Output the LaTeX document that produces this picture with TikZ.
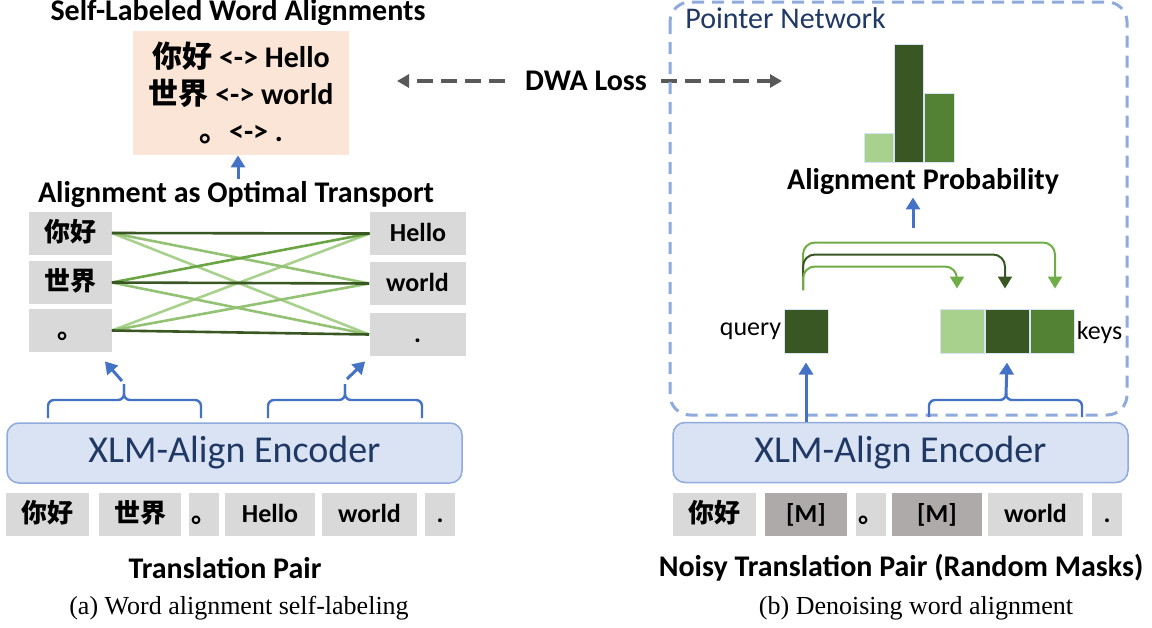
\documentclass[tikz,border=0pt]{standalone}
\usepackage{fontspec}
\setmainfont{Liberation Serif}
\setsansfont{Carlito}
\newfontfamily\cjk{Noto Sans CJK SC}
\usetikzlibrary{positioning,calc,arrows.meta}

\definecolor{tokgray}{HTML}{D9D9D9}
\definecolor{maskgray}{HTML}{AEAAAA}
\definecolor{peach}{HTML}{FBE5D6}
\definecolor{encfill}{HTML}{DAE3F3}
\definecolor{encline}{HTML}{8FAADC}
\definecolor{navy}{HTML}{203864}
\definecolor{arrblue}{HTML}{4472C4}
\definecolor{gdark}{HTML}{385723}
\definecolor{gmid}{HTML}{548235}
\definecolor{glight}{HTML}{A9D18E}
\definecolor{gline}{HTML}{70AD47}
\definecolor{lossgray}{HTML}{595959}

\newcommand{\zh}[1]{{\cjk\bfseries #1}}

\tikzset{
	tok/.style={fill=tokgray, inner sep=0pt, minimum height=21.5pt, text height=10pt, text depth=1.6pt, font=\sffamily\bfseries\fontsize{13}{15}\selectfont},
	masktok/.style={tok, fill=maskgray},
	enc/.style={draw=encline, fill=encfill, line width=0.75pt, rounded corners=6pt, text=navy, minimum width=227.5pt, minimum height=30pt, font=\sffamily\fontsize{19}{22}\selectfont},
	peachbox/.style={fill=peach, minimum width=108pt, minimum height=62pt, align=center, font=\sffamily\bfseries\fontsize{15}{18.5}\selectfont},
	headline/.style={inner sep=1pt, font=\sffamily\bfseries\fontsize{15}{18}\selectfont},
	subcap/.style={inner sep=1pt, font=\rmfamily\fontsize{13}{15}\selectfont},
	lbl/.style={inner sep=0pt, font=\sffamily\fontsize{13}{15}\selectfont},
	vec/.style={draw=encfill, line width=0.5pt, inner sep=0pt, minimum width=22pt, minimum height=22pt},
	bar/.style={draw=encfill, line width=0.5pt},
	otline/.style={line width=1.3pt},
	bluearr/.style={draw=arrblue, line width=1.5pt, -{Triangle[length=6pt,width=7pt]}},
	bracketline/.style={draw=arrblue, line width=1.2pt, rounded corners=3pt},
	garr/.style={line width=1pt, rounded corners=6pt, -{Triangle[length=6pt,width=7pt]}},
	lossarr/.style={draw=lossgray, line width=1.75pt, dash pattern=on 8pt off 4pt, -{Triangle[length=6pt,width=6.5pt]}},
}

\begin{document}
\begin{tikzpicture}[x=0.5pt, y=-0.5pt]
			%%%%% START %%%%%
			\useasboundingbox (0,0) rectangle (1152,627);
			
			% (a) self-labeling
			\node[headline] (slwa) at (238,13) {Self-Labeled Word Alignments};
			\node[peachbox] (peach) at (241,93) {\zh{你好} <-> Hello\\\zh{世界} <-> world\\\zh{。}<-> .};
			\node[headline] (ot) at (236,194) {Alignment as Optimal Transport};
			\draw[bluearr] ([xshift=1pt]ot.north) -- ([xshift=1pt]ot.north |- peach.south);
			
			\node[tok, minimum width=41.5pt] (z1) at (70,233) {\zh{你好}};
			\node[tok, minimum width=41.5pt] (z2) at (70,282.5) {\zh{世界}};
			\node[tok, minimum width=41.5pt] (z3) at (70,330.5) {\zh{。}};
			\node[tok, minimum width=48pt] (e1) at (418,233.5) {Hello};
			\node[tok, minimum width=48pt] (e2) at (417.5,283.5) {world};
			\node[tok, minimum width=48pt] (e3) at (417.5,334.5) {.};
			
			\draw[otline, glight] (z1.east) -- (e3.west);
			\draw[otline, glight] (z3.east) -- (e1.west);
			\draw[otline, gline!75] (z1.east) -- (e2.west);
			\draw[otline, gline!75] (z2.east) -- (e3.west);
			\draw[otline, gline!75] (z3.east) -- (e2.west);
			\draw[otline, gline!95!black] (z2.east) -- (e1.west);
			\draw[otline, gdark] (z1.east) -- (e1.west);
			\draw[otline, gdark] (z2.east) -- (e2.west);
			\draw[otline, gdark] (z3.east) -- (e3.west);
			
			\coordinate (ltip) at (124,384);
			\coordinate (rtip) at (345,384);
			\draw[bracketline] (48,418) |- (ltip |- 0,400) -- (ltip);
			\draw[bracketline] (ltip) -- (ltip |- 0,400) -| (201,418);
			\draw[bracketline] (268,418) |- (rtip |- 0,400) -- (rtip);
			\draw[bracketline] (rtip) -- (rtip |- 0,400) -| (422,418);
			\draw[bluearr] ($(ltip)+(-2,-3)$) -- ($(z3.south east)+(-7,9)$);
			\draw[bluearr] ($(rtip)+(2,-5)$) -- ($(e3.south west)+(-4,5)$);
			
			\node[enc] (enc1) at (234.5,453) {XLM-Align Encoder};
			
			\node[tok, minimum width=41.5pt] (s1) at (47.5,514.5) {\zh{你好}};
			\node[tok, minimum width=41pt] (s2) at (140,514.5) {\zh{世界}};
			\node[tok, minimum width=15pt] (s3) at (204,514.5) {\zh{。}};
			\node[tok, minimum width=45pt] (s4) at (270,514.5) {Hello};
			\node[tok, minimum width=47.5pt] (s5) at (369.5,514.5) {world};
			\node[tok, minimum width=15pt] (s6) at (440,514.5) {.};
			
			\node[headline] (tp) at (225,568) {Translation Pair};
			\node[subcap] (capa) at (239,608) {(a) Word alignment self-labeling};
			
			% loss
			\node[headline] (dwa) at (586,81) {DWA Loss};
			\coordinate (lossl) at (397,81);
			\coordinate (lossr) at (782,81);
			\draw[lossarr] ([xshift=-9pt]dwa.west) -- (lossl);
			\draw[lossarr] ([xshift=6pt]dwa.east) -- (lossr);
			
			% (b) denoising
			\draw[encline, line width=1.5pt, dash pattern=on 6pt off 4pt, rounded corners=10pt] (670,2) rectangle (1127,415);
			\node[lbl, anchor=west, text=navy, font=\sffamily\fontsize{15}{18}\selectfont] (ptr) at (685,18) {Pointer Network};
			
			\draw[bar, fill=glight] (864,162) rectangle (893,133);
			\draw[bar, fill=gdark] (894,162) rectangle (923,44);
			\draw[bar, fill=gmid] (924,162) rectangle (954,93);
			\node[headline] (prob) at (923,182) {Alignment Probability};
			\coordinate (pa) at (913,228);
			\draw[bluearr] (pa) -- (pa |- prob.south);
			
			\node[vec, fill=gdark] (qbox) at (806,331) {};
			\node[lbl, left=1pt of qbox] (qlbl) {query};
			\node[vec, fill=glight] (k1) at (962,331) {};
			\node[vec, fill=gdark, right=0pt of k1] (k2) {};
			\node[vec, fill=gmid, right=0pt of k2] (k3) {};
			\node[lbl, right=1pt of k3, yshift=-1pt] (klbl) {keys};
			
			\coordinate (qs) at (803,290);
			\draw[garr, gline] (qs) |- ($(k3.north)+(3,-66)$) -- ($(k3.north)+(3,-20)$);
			\draw[garr, gdark] (qs) |- ($(k2.north)+(-2,-54)$) -- ($(k2.north)+(-2,-20)$);
			\draw[garr, gline] (qs) |- ($(k1.north)+(-5,-42)$) -- ($(k1.north)+(-5,-20)$);
			
			\node[enc] (enc2) at (900.5,452.5) {XLM-Align Encoder};
			
			\coordinate (ktip) at (1006,395);
			\draw[bracketline] (929,417) |- (ktip |- 0,400) -- (ktip);
			\draw[bracketline] (ktip) -- (ktip |- 0,400) -| (1082,417);
			\draw[bluearr] (enc2.north -| qbox.south) -- ($(qbox.south)+(0,9)$);
			\draw[bluearr] (ktip) -- ($(k2.south)+(0,9)$);
			
			\node[tok, minimum width=41.5pt] (n1) at (714.5,514.5) {\zh{你好}};
			\node[masktok, minimum width=41pt] (n2) at (806,514.5) {[M]};
			\node[tok, minimum width=15pt] (n3) at (871,514.5) {\zh{。}};
			\node[masktok, minimum width=45pt] (n4) at (937,514.5) {[M]};
			\node[tok, minimum width=47.5pt] (n5) at (1035.5,514.5) {world};
			\node[tok, minimum width=15pt] (n6) at (1107,514.5) {.};
			
			\node[headline] (ntp) at (901,568) {Noisy Translation Pair (Random Masks)};
			\node[subcap] (capb) at (916,608) {(b) Denoising word alignment};
			
			%%%%% END %%%%%
\end{tikzpicture}
\end{document}
